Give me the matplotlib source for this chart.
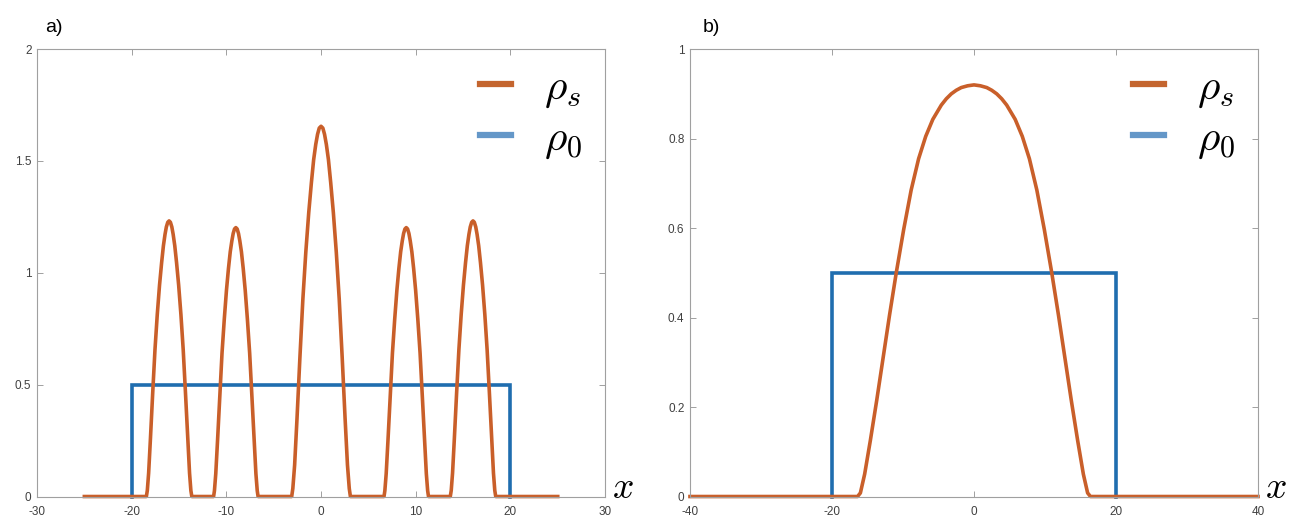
import matplotlib
matplotlib.use("Agg")
import matplotlib.pyplot as plt
from matplotlib.lines import Line2D
from matplotlib.ticker import FormatStrFormatter

plt.rcParams['mathtext.fontset'] = 'cm'
plt.rcParams['axes.unicode_minus'] = False
plt.rcParams['font.family'] = ['Liberation Sans', 'DejaVu Sans']

ORANGE = '#C95F2A'
BLUE = '#1F6DAF'
ORANGE_LEG = '#C4652F'
BLUE_LEG = '#6497C8'
FRAME = '#A0A0A0'
TXT = '#404040'

# ---- panel a) : five density peaks ----
peak1_x = [-18.45, -18.35, -18.21, -18.02, -17.78, -17.54, -17.3, -17.06, -16.84, -16.65, -16.48, -16.34, -16.19,
           -16.05, -15.91, -15.76, -15.62, -15.45, -15.26, -15.04, -14.8, -14.56, -14.32, -14.08, -13.89, -13.75, -13.65]
peak2_x = [-11.35, -11.26, -11.12, -10.93, -10.69, -10.46, -10.22, -9.99, -9.78, -9.59, -9.42, -9.28, -9.14,
           -9.0, -8.86, -8.72, -8.58, -8.41, -8.22, -8.01, -7.78, -7.54, -7.31, -7.07, -6.88, -6.74, -6.65]
peak3_x = [-3.1, -2.98, -2.79, -2.54, -2.23, -1.92, -1.61, -1.3, -1.02, -0.78, -0.56, -0.37, -0.19,
           0.0, 0.19, 0.37, 0.56, 0.78, 1.02, 1.3, 1.61, 1.92, 2.23, 2.54, 2.79, 2.98, 3.1]
peak4_x = [6.65, 6.74, 6.88, 7.07, 7.31, 7.54, 7.78, 8.01, 8.22, 8.41, 8.58, 8.72, 8.86,
           9.0, 9.14, 9.28, 9.42, 9.59, 9.78, 9.99, 10.22, 10.46, 10.69, 10.93, 11.12, 11.26, 11.35]
peak5_x = [13.65, 13.75, 13.89, 14.08, 14.32, 14.56, 14.8, 15.04, 15.26, 15.45, 15.62, 15.76, 15.91,
           16.05, 16.19, 16.34, 16.48, 16.65, 16.84, 17.06, 17.3, 17.54, 17.78, 18.02, 18.21, 18.35, 18.45]

outer_y = [0, 0.027, 0.105, 0.259, 0.464, 0.657, 0.813, 0.945, 1.045, 1.121, 1.172, 1.205, 1.226,
           1.232, 1.226, 1.205, 1.172, 1.121, 1.045, 0.945, 0.813, 0.657, 0.464, 0.259, 0.105, 0.027, 0]
inner_y = [0, 0.026, 0.102, 0.252, 0.453, 0.641, 0.793, 0.922, 1.019, 1.094, 1.143, 1.176, 1.196,
           1.202, 1.196, 1.176, 1.143, 1.094, 1.019, 0.922, 0.793, 0.641, 0.453, 0.252, 0.102, 0.026, 0]
central_y = [0, 0.036, 0.141, 0.348, 0.624, 0.882, 1.092, 1.269, 1.403, 1.506, 1.574, 1.619, 1.647,
             1.655, 1.647, 1.619, 1.574, 1.506, 1.403, 1.269, 1.092, 0.882, 0.624, 0.348, 0.141, 0.036, 0]

rho0_a_x = [-20, -20, 20, 20]
rho0_a_y = [0, 0.5, 0.5, 0]

# ---- panel b) : single broad dome ----
dome_x = [-40, -16.4, -16.0, -15.4, -14.6, -13.7, -12.8, -11.9, -10.95, -9.9, -8.85, -7.8, -6.8, -5.8,
          -4.6, -3.9, -3.2, -2.5, -1.8, -0.9, 0, 0.9, 1.8, 2.5, 3.2, 3.9, 4.6,
          5.8, 6.8, 7.8, 8.85, 9.9, 10.95, 11.9, 12.8, 13.7, 14.6, 15.4, 16.0, 16.4, 40]
dome_y = [0, 0, 0.008, 0.05, 0.125, 0.215, 0.31, 0.405, 0.5, 0.597, 0.685, 0.755, 0.805, 0.843,
          0.875, 0.889, 0.9, 0.908, 0.914, 0.918, 0.92, 0.918, 0.914, 0.908, 0.9, 0.889, 0.875,
          0.843, 0.805, 0.755, 0.685, 0.597, 0.5, 0.405, 0.31, 0.215, 0.125, 0.05, 0.008, 0, 0]

rho0_b_x = [-20, -20, 20, 20]
rho0_b_y = [0, 0.5, 0.5, 0]

xticks_a = [-30, -20, -10, 0, 10, 20, 30]
yticks_a = [0, 0.5, 1, 1.5, 2]
xticks_b = [-40, -20, 0, 20, 40]
yticks_b = [0, 0.2, 0.4, 0.6, 0.8, 1]

rho_s_a_x = [-25] + peak1_x + peak2_x + peak3_x + peak4_x + peak5_x + [25]
rho_s_a_y = [0] + outer_y + inner_y + central_y + inner_y + outer_y + [0]


def style_axes(ax, xticks, yticks):
    ax.set_xlim(xticks[0], xticks[-1])
    ax.set_ylim(yticks[0], yticks[-1])
    ax.set_xticks(xticks)
    ax.set_yticks(yticks)
    ax.yaxis.set_major_formatter(FormatStrFormatter('%g'))
    ax.xaxis.set_major_formatter(FormatStrFormatter('%g'))
    for s in ax.spines.values():
        s.set_color(FRAME)
        s.set_linewidth(0.8)
    ax.tick_params(axis='both', direction='in', length=4, width=0.7, color=FRAME,
                   labelsize=8.5, labelcolor=TXT, top=True, right=True)
    ax.tick_params(axis='x', pad=7)
    ax.tick_params(axis='y', pad=4)
    ax.text(1.013, -0.004, r'$x$', transform=ax.transAxes, fontsize=27,
            ha='left', va='baseline')
    handles = [Line2D([], [], color=ORANGE_LEG, lw=4.5),
               Line2D([], [], color=BLUE_LEG, lw=4.5)]
    ax.legend(handles, [r'$\rho_s$', r'$\rho_0$'], loc='upper right', frameon=False,
              fontsize=31, handlelength=0.72, handletextpad=0.77, labelspacing=0.22,
              borderaxespad=0.0, bbox_to_anchor=(0.99, 0.997))


fig = plt.figure(figsize=(13.08, 5.32), dpi=100)
ax1 = fig.add_axes([0.0283, 0.0667, 0.4343, 0.8410])
ax2 = fig.add_axes([0.5275, 0.0667, 0.4343, 0.8410])

ax1.plot(rho0_a_x, rho0_a_y, color=BLUE, lw=2.6, clip_on=False, solid_joinstyle='miter')
ax1.plot(rho_s_a_x, rho_s_a_y, color=ORANGE, lw=2.6, clip_on=False, solid_joinstyle='round')
style_axes(ax1, xticks_a, yticks_a)

ax2.plot(rho0_b_x, rho0_b_y, color=BLUE, lw=2.6, clip_on=False, solid_joinstyle='miter')
ax2.plot(dome_x, dome_y, color=ORANGE, lw=2.6, clip_on=False, solid_joinstyle='round')
style_axes(ax2, xticks_b, yticks_b)

fig.text(45 / 1308, 1 - 28 / 532, 'a)', fontsize=14, va='center', ha='left')
fig.text(703 / 1308, 1 - 28 / 532, 'b)', fontsize=14, va='center', ha='left')

fig.savefig('out.png', dpi=100)
